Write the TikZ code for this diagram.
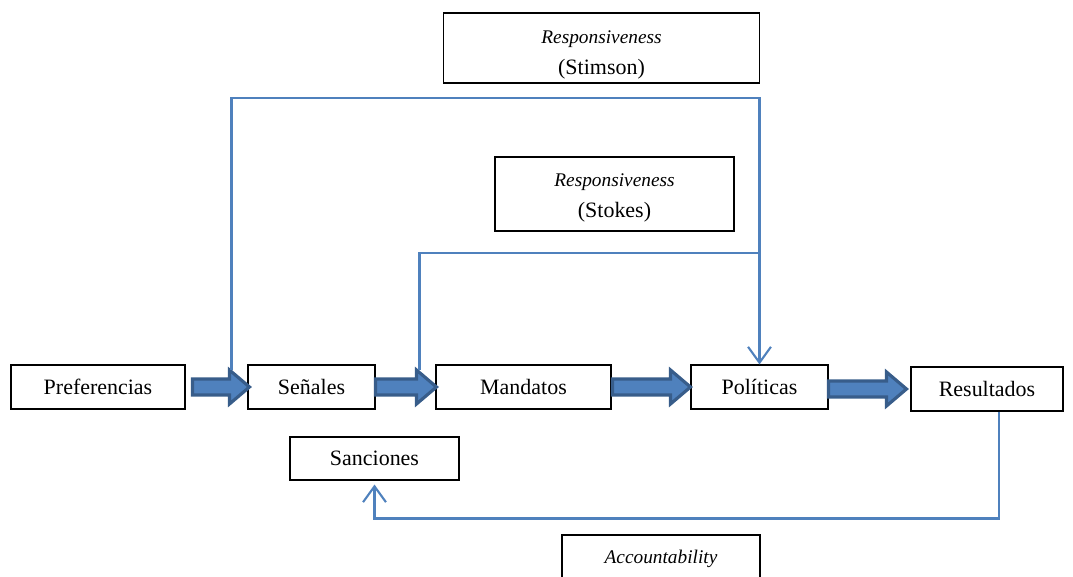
\documentclass[tikz,border=0pt]{standalone}
\usepackage{fontspec}
\setmainfont{Liberation Serif}
\usetikzlibrary{arrows.meta,calc}
\definecolor{linkblue}{HTML}{4F81BD}
\definecolor{arrowedge}{HTML}{385D8A}

% Fat block arrow from one box to the next; #4 names the upper back corner of its head
\newcommand\fatarrow[5]{%
  \draw[fat] ($(#1.east |- #2.west)+(#3,-8)$) -- ($(#2.west)+(-20-#5,-8)$)
    -- ($(#2.west)+(-20-#5,-17)$) coordinate (#4) -- ($(#2.west)+(-#5,0)$)
    -- ($(#2.west)+(-20-#5,17)$) -- ($(#2.west)+(-20-#5,8)$)
    -- ($(#1.east |- #2.west)+(#3,8)$) -- cycle;}

\begin{document}
\begin{tikzpicture}[x=0.02cm,y=-0.02cm,
  box/.style={draw=black, line width=0.6pt, fill=white, inner sep=0pt,
    font=\fontsize{12.5}{14}\selectfont},
  label/.style={inner sep=0pt, anchor=base, font=\fontsize{12.5}{14}\selectfont},
  itlabel/.style={label, font=\fontsize{11}{13}\selectfont\itshape},
  link/.style={draw=linkblue, line width=1.2pt},
  barb/.style={-{Straight Barb[length=9pt,width=13pt]}},
  fat/.style={fill=linkblue, draw=arrowedge, line width=1.8pt, line join=miter}]
\useasboundingbox (0,0) rectangle (1073,577);

% chain of boxes
\node[box, minimum width=3.48cm, minimum height=0.88cm] (pref) at (98,387) {Preferencias};
\node[box, minimum width=2.54cm, minimum height=0.88cm] (sen) at (311.5,387) {Señales};
\node[box, minimum width=3.5cm, minimum height=0.88cm] (man) at (523.5,387) {Mandatos};
\node[box, minimum width=2.74cm, minimum height=0.88cm] (pol) at (759.5,387) {Políticas};
\node[box, minimum width=3.04cm, minimum height=0.88cm] (res) at (987,389) {Resultados};
\node[box, minimum width=3.38cm, minimum height=0.86cm] (san) at (374.5,458.5) {Sanciones};

% labelled boxes
\node[box, minimum width=6.34cm, minimum height=1.4cm] (stim) at (601.5,48) {};
\begin{scope}
  \clip ($(stim.south west)+(0,-1)$) rectangle (stim.north east);
  \node[itlabel] (stimA) at (601.5,44) {Responsiveness};
  \node[label] (stimB) at (601.5,75) {(Stimson)};
\end{scope}
\node[box, minimum width=4.78cm, minimum height=1.48cm] (stok) at (614.5,194) {};
\node[itlabel] (stokA) at (614.5,187) {Responsiveness};
\node[label] (stokB) at (614.5,218) {(Stokes)};
\node[box, minimum width=3.96cm, minimum height=1.3cm] (acc) at (661,567.5) {};
\node[itlabel] (accA) at (661,564) {Accountability};

% fat arrows along the chain
\fatarrow{pref}{sen}{7}{h1}{-2}
\fatarrow{sen}{man}{0}{h2}{-1}
\fatarrow{man}{pol}{1}{h3}{0}
\fatarrow{pol}{res}{0}{h4}{4}

% feedback links
\coordinate (top1) at (pol.north |- 0,98);
\coordinate (top2) at (pol.north |- 0,253);
\draw[link, barb] ($(h1)+(2,0)$) |- (top1) -- (pol.north);
\draw[link] ($(h2)+(3,0)$) |- (top2);
\coordinate (r1) at ($(res.south)+(12,0)$);
\draw[link, barb] (r1) -- ++(0,107) -| ($(san.south)+(0,4)$);
\end{tikzpicture}
\end{document}
